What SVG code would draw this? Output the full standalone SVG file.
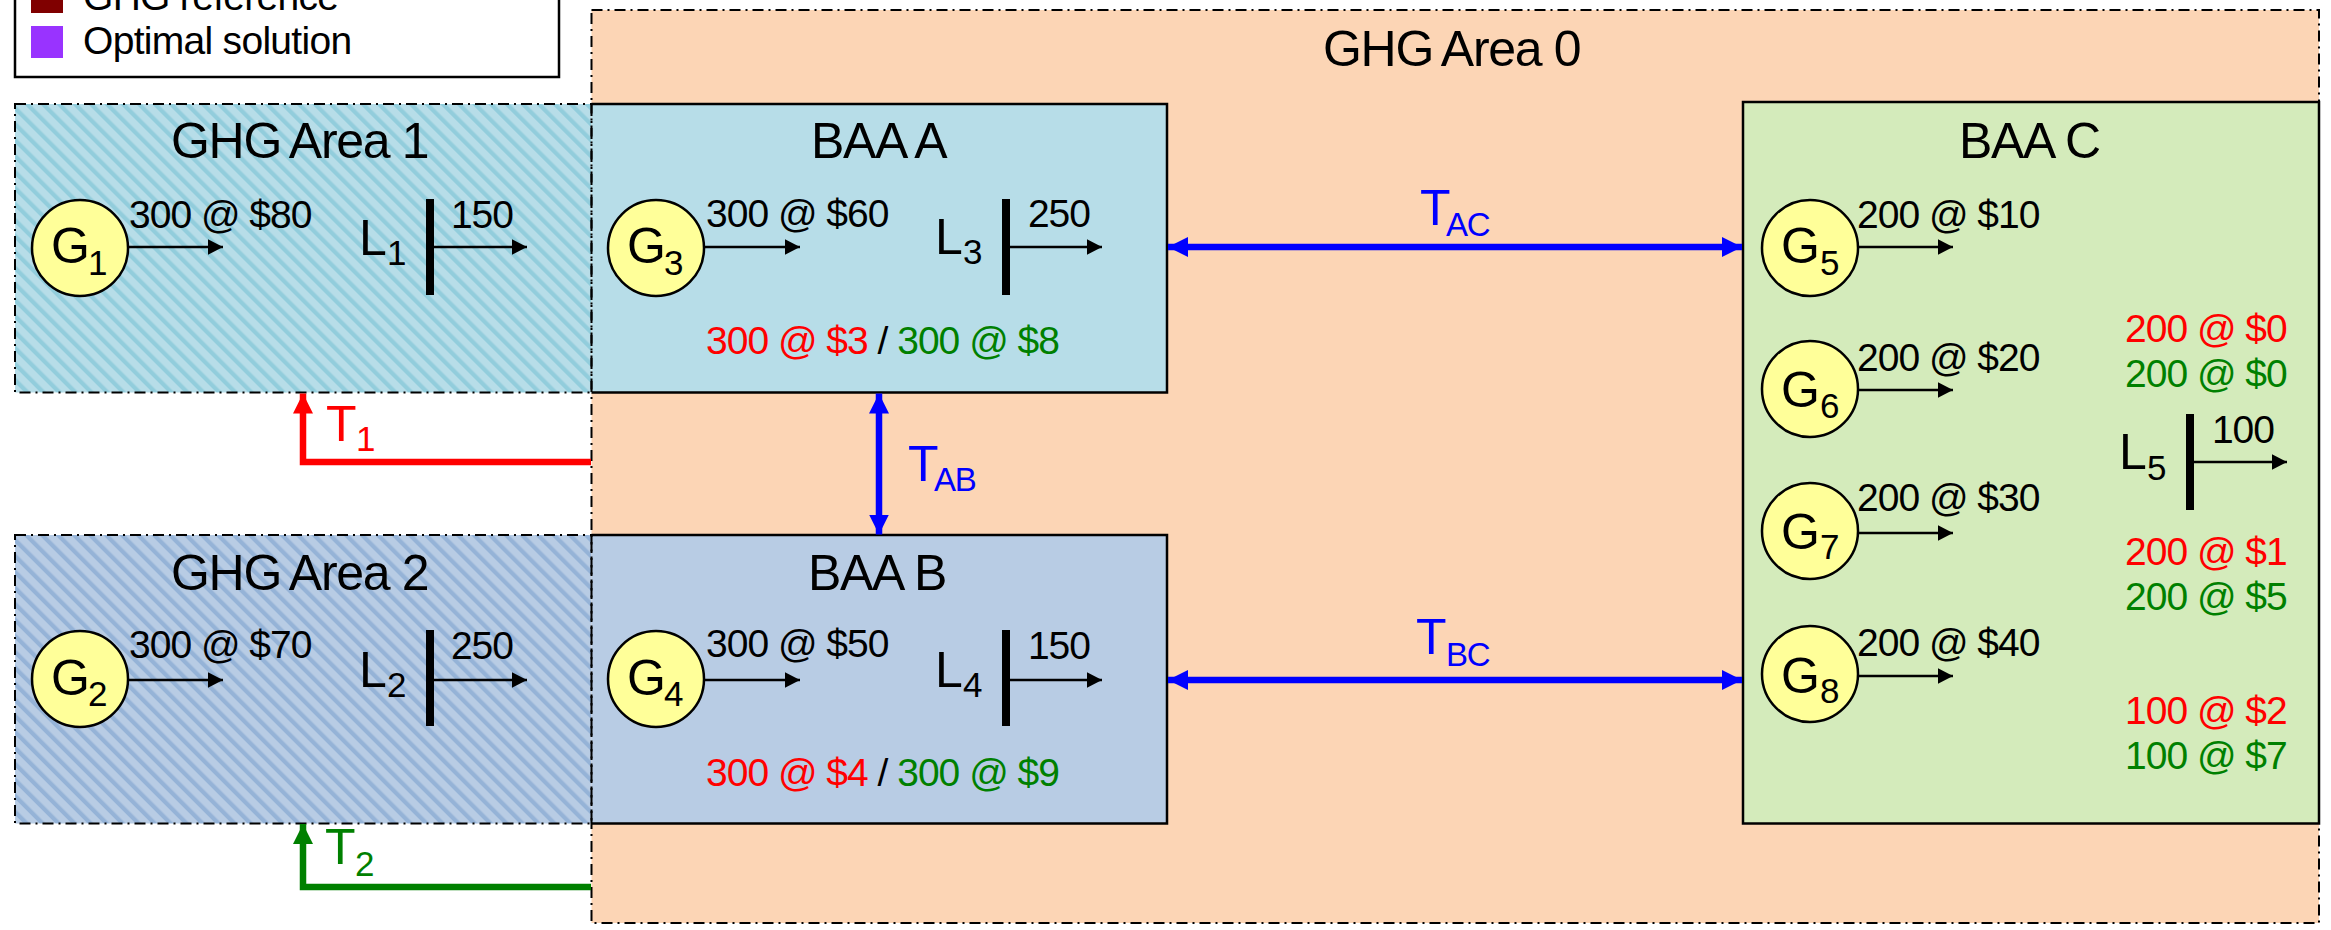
<svg xmlns="http://www.w3.org/2000/svg" width="2331" height="930" viewBox="0 0 2331 930">
<style>
text{font-family:"Liberation Sans",Arial,sans-serif;fill:#000}
.t{font-size:39px;letter-spacing:-1px}
.lg{font-size:39px;letter-spacing:-0.7px}
.h{font-size:50px;letter-spacing:-1.3px}
.g{font-size:50px}
.s{font-size:35px;letter-spacing:0}
.ts{font-size:33px;letter-spacing:-1.3px}
.r{fill:#f00}.n{fill:#008000}.b{fill:#00f}
.dd{fill:none;stroke:#000;stroke-width:2;stroke-dasharray:11 5 2 5}
.box{fill:none;stroke:#000;stroke-width:2.5}
.gen{fill:#ff9;stroke:#000;stroke-width:2.5}
.bar{fill:#000}
.a{fill:none;stroke:#000;stroke-width:2.5;marker-end:url(#ak)}
.ab{fill:none;stroke:#00f;stroke-width:6.5;marker-start:url(#abs);marker-end:url(#abe)}
</style>
<defs>
<marker id="ak" markerUnits="userSpaceOnUse" markerWidth="16" markerHeight="17" refX="15.5" refY="8.5" orient="auto"><path d="M0,0.5L15.5,8.5L0,16.5z" fill="#000"/></marker>
<marker id="abe" markerUnits="userSpaceOnUse" markerWidth="20" markerHeight="21" refX="20" refY="10.5" orient="auto"><path d="M0,0.5L20,10.5L0,20.5z" fill="#00f"/></marker>
<marker id="abs" markerUnits="userSpaceOnUse" markerWidth="20" markerHeight="21" refX="0" refY="10.5" orient="auto"><path d="M20,0.5L0,10.5L20,20.5z" fill="#00f"/></marker>
<marker id="ar" markerUnits="userSpaceOnUse" markerWidth="20" markerHeight="21" refX="20" refY="10.5" orient="auto"><path d="M0,0.5L20,10.5L0,20.5z" fill="#f00"/></marker>
<marker id="ag" markerUnits="userSpaceOnUse" markerWidth="20" markerHeight="21" refX="20" refY="10.5" orient="auto"><path d="M0,0.5L20,10.5L0,20.5z" fill="#008000"/></marker>
<pattern id="h1" width="11.31" height="11.31" patternUnits="userSpaceOnUse" patternTransform="rotate(-45)"><rect width="11.31" height="11.31" fill="#B7DDE8"/><rect width="4.2" height="11.31" fill="#92CDDC"/></pattern>
<pattern id="h2" width="11.31" height="11.31" patternUnits="userSpaceOnUse" patternTransform="rotate(-45)"><rect width="11.31" height="11.31" fill="#B8CCE4"/><rect width="4.2" height="11.31" fill="#95B3D7"/></pattern>
</defs>

<g id="legend">
<rect x="15" y="-20" width="544" height="97" fill="#fff" stroke="#000" stroke-width="2.5"/>
<rect x="31" y="-19" width="32" height="32" fill="#800000"/>
<rect x="31" y="26" width="32" height="32" fill="#9933FF"/>
<text class="lg" x="83" y="10">GHG reference</text>
<text class="lg" x="83" y="54">Optimal solution</text>
</g>

<g id="area0"><rect x="591.5" y="10" width="1727.5" height="913" fill="#FCD5B5"/>
<text class="h" x="1323" y="66">GHG <tspan dx="-2">Area 0</tspan></text></g>

<g id="area1"><rect x="15" y="104" width="576.5" height="288.5" fill="url(#h1)"/>
<text class="h" x="171" y="158">GHG <tspan dx="-2">Area 1</tspan></text></g>
<g id="area2"><rect x="15" y="535" width="576.5" height="288.5" fill="url(#h2)"/>
<text class="h" x="171" y="590">GHG <tspan dx="-2">Area 2</tspan></text></g>

<g id="baaA"><rect x="591.5" y="104" width="575.5" height="288.5" fill="#B7DDE8"/>
<path class="box" d="M591.5,104H1167V392.5H591.5"/>
<text class="h" x="811" y="158">BAA A</text>
<text class="t" x="706" y="354"><tspan class="r">300 @ $3</tspan> / <tspan class="n">300 @ $8</tspan></text></g>
<g id="baaB"><rect x="591.5" y="535" width="575.5" height="288.5" fill="#B8CCE4"/>
<path class="box" d="M591.5,535H1167V823.5H591.5"/>
<text class="h" x="808" y="590">BAA B</text>
<text class="t" x="706" y="786"><tspan class="r">300 @ $4</tspan> / <tspan class="n">300 @ $9</tspan></text></g>
<g id="baaC"><rect class="box" x="1743" y="102" width="576" height="721.5" style="fill:#D4EBBB"/>
<text class="h" x="1959" y="158">BAA C</text>
<text class="t r" x="2125" y="342">200 @ $0</text>
<text class="t n" x="2125" y="387">200 @ $0</text>
<text class="t r" x="2125" y="565">200 @ $1</text>
<text class="t n" x="2125" y="610">200 @ $5</text>
<text class="t r" x="2125" y="724">100 @ $2</text>
<text class="t n" x="2125" y="769">100 @ $7</text></g>

<g id="boundaries">
<rect class="dd" x="15" y="104" width="576.5" height="288.5"/>
<rect class="dd" x="15" y="535" width="576.5" height="288.5"/>
<rect class="dd" x="591.5" y="10" width="1727.5" height="913"/>
</g>

<g id="connectors">
<path class="a" d="M128,247H223"/>
<path class="a" d="M430,247H527"/>
<path class="a" d="M128,680H223"/>
<path class="a" d="M430,680H527"/>
<path class="a" d="M704,247H800"/>
<path class="a" d="M1006,247H1102"/>
<path class="a" d="M704,680H800"/>
<path class="a" d="M1006,680H1102"/>
<path class="a" d="M1858,247H1953"/>
<path class="a" d="M1858,390H1953"/>
<path class="a" d="M1858,533H1953"/>
<path class="a" d="M1858,676H1953"/>
<path class="a" d="M2190,462H2287"/>
<path class="ab" d="M1168,247H1742"/>
<path class="ab" d="M1168,680H1742"/>
<path class="ab" d="M879,393.5V534.5"/>
<path d="M591,462H303V393.5" fill="none" stroke="#f00" stroke-width="6.5" marker-end="url(#ar)"/>
<path d="M591,887H303V824" fill="none" stroke="#008000" stroke-width="6.5" marker-end="url(#ag)"/>
</g>

<g id="G1"><circle class="gen" cx="80" cy="248" r="48"/><text class="g" x="51" y="263">G<tspan class="s" x="88" y="275">1</tspan></text></g>
<g id="G2"><circle class="gen" cx="80" cy="679" r="48"/><text class="g" x="51" y="695">G<tspan class="s" x="88" y="706">2</tspan></text></g>
<g id="G3"><circle class="gen" cx="656" cy="248" r="48"/><text class="g" x="627" y="263">G<tspan class="s" x="664" y="275">3</tspan></text></g>
<g id="G4"><circle class="gen" cx="656" cy="679" r="48"/><text class="g" x="627" y="695">G<tspan class="s" x="664" y="706">4</tspan></text></g>
<g id="G5"><circle class="gen" cx="1810" cy="248" r="48"/><text class="g" x="1781" y="263">G<tspan class="s" x="1820" y="275">5</tspan></text></g>
<g id="G6"><circle class="gen" cx="1810" cy="389" r="48"/><text class="g" x="1781" y="407">G<tspan class="s" x="1820" y="418">6</tspan></text></g>
<g id="G7"><circle class="gen" cx="1810" cy="531" r="48"/><text class="g" x="1781" y="549">G<tspan class="s" x="1820" y="559">7</tspan></text></g>
<g id="G8"><circle class="gen" cx="1810" cy="674" r="48"/><text class="g" x="1781" y="693">G<tspan class="s" x="1820" y="703">8</tspan></text></g>

<g id="L1"><rect class="bar" x="426" y="199" width="8" height="96"/><text class="g" x="359" y="255">L<tspan class="s" x="387" y="265">1</tspan></text></g>
<g id="L2"><rect class="bar" x="426" y="630" width="8" height="96"/><text class="g" x="359" y="687">L<tspan class="s" x="387" y="697">2</tspan></text></g>
<g id="L3"><rect class="bar" x="1002" y="199" width="8" height="96"/><text class="g" x="935" y="254">L<tspan class="s" x="963" y="264">3</tspan></text></g>
<g id="L4"><rect class="bar" x="1002" y="630" width="8" height="96"/><text class="g" x="935" y="687">L<tspan class="s" x="963" y="697">4</tspan></text></g>
<g id="L5"><rect class="bar" x="2186" y="414" width="8" height="96"/><text class="g" x="2119" y="469">L<tspan class="s" x="2147" y="480">5</tspan></text></g>

<g id="flow-labels">
<text class="t" x="129" y="228">300 @ $80</text>
<text class="t" x="129" y="658">300 @ $70</text>
<text class="t" x="706" y="227">300 @ $60</text>
<text class="t" x="706" y="657">300 @ $50</text>
<text class="t" x="1857" y="228">200 @ $10</text>
<text class="t" x="1857" y="371">200 @ $20</text>
<text class="t" x="1857" y="511">200 @ $30</text>
<text class="t" x="1857" y="656">200 @ $40</text>
<text class="t" x="513" y="228" text-anchor="end">150</text>
<text class="t" x="513" y="659" text-anchor="end">250</text>
<text class="t" x="1090" y="227" text-anchor="end">250</text>
<text class="t" x="1090" y="659" text-anchor="end">150</text>
<text class="t" x="2274" y="443" text-anchor="end">100</text>
</g>

<g id="transfer-labels">
<text class="g r" x="326" y="441">T<tspan class="s r" x="356" y="451">1</tspan></text>
<text class="g n" x="325" y="864">T<tspan class="s n" x="355" y="876">2</tspan></text>
<text class="g b" x="908" y="481">T<tspan class="ts b" x="934" y="491">AB</tspan></text>
<text class="g b" x="1420" y="225">T<tspan class="ts b" x="1446" y="236">AC</tspan></text>
<text class="g b" x="1416" y="654">T<tspan class="ts b" x="1446" y="666">BC</tspan></text>
</g>
</svg>
